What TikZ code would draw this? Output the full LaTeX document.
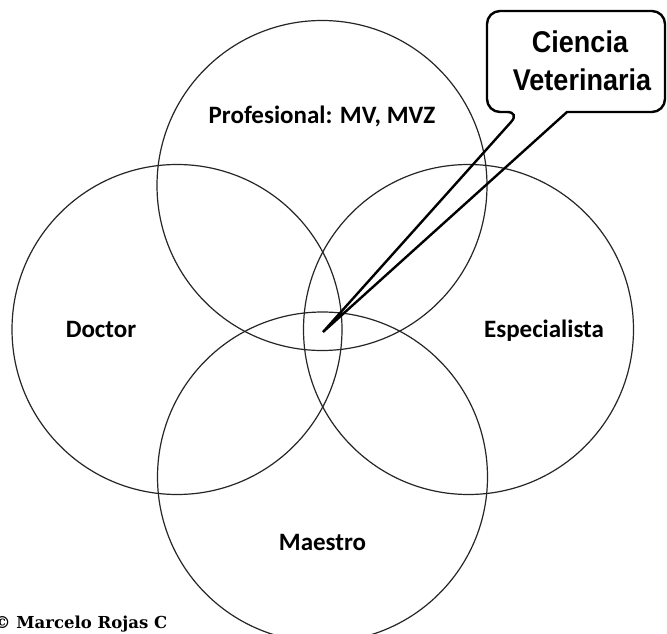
\documentclass[tikz,border=0pt]{standalone}
\usepackage{fontspec}
\newfontfamily\labfont{Carlito}
\newfontfamily\calfont{Liberation Sans}[FakeStretch=0.9]
\newfontfamily\cpyfont{DejaVu Serif}
\begin{document}
\begin{tikzpicture}[x=1pt,y=-1pt,
  ring/.style={circle,draw=black!85,line width=1.2pt,minimum size=330pt,inner sep=0pt},
  lab/.style={font=\labfont\bfseries\fontsize{25}{30}\selectfont,inner sep=0pt,anchor=base},
  caltext/.style={font=\calfont\bfseries\fontsize{30}{38}\selectfont,inner sep=0pt,anchor=base},
  callout/.style={draw=black,line width=2.4pt,line join=miter}]
\useasboundingbox (0,0) rectangle (667,634);
\clip (0,0) rectangle (667,634);
\fill[white] (0,0) rectangle (667,634);
% circles
\node[ring] (prof) at (322,185.5) {};
\node[ring] (doc)  at (177,329.5) {};
\node[ring] (esp)  at (468.5,329.5) {};
\node[ring] (mae)  at (322.5,477) {};
% labels
\node[lab] (lprof) at (322,124) {Profesional: MV, MVZ};
\node[lab] (ldoc)  at (101,337) {Doctor};
\node[lab] (lesp)  at (544,337) {Especialista};
\node[lab] (lmae)  at (322.5,550) {Maestro};
% callout
\coordinate (tip) at (323,332);
\coordinate (bl) at (520,112);
\coordinate (br) at (567,112);
\draw[callout] (br) [rounded corners=13pt] -- (665,112) -- (665,11) -- (487,11) -- (487,112) -- (bl) [sharp corners] -- (tip) -- cycle;
\node[caltext] (ciencia) at (580,53) {Ciencia};
\node[caltext] (veter) at (582,91) {Veterinaria};
% copyright
\node[font=\cpyfont\bfseries\fontsize{16.5}{20}\selectfont,inner sep=0pt,anchor=base west] (copy) at (-6,628) {© Marcelo Rojas C};
\end{tikzpicture}
\end{document}
